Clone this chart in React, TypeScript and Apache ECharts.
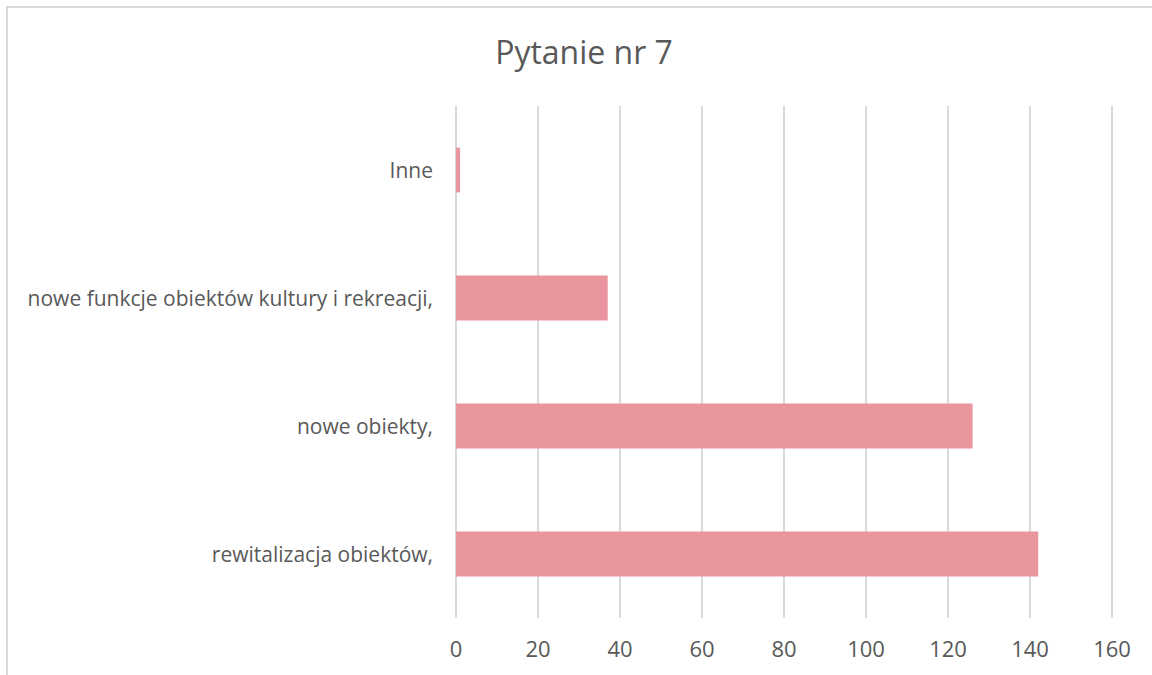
import React, { useEffect, useRef } from "react";
import * as echarts from "echarts";

const titleText = "Pytanie nr 7";
const categories = [
  "rewitalizacja obiektów,",
  "nowe obiekty,",
  "nowe funkcje obiektów kultury i rekreacji,",
  "Inne",
];
const values = [142, 126, 37, 1];
const axisMin = 0;
const axisMax = 160;
const axisStep = 20;

export default function App() {
  const ref = useRef<HTMLDivElement>(null);
  useEffect(() => {
    if (!ref.current) return;
    const chart = echarts.init(ref.current, undefined, { renderer: "svg" });
    const font = "'Open Sans', 'Noto Sans', sans-serif";
    chart.setOption({
      animation: false,
      backgroundColor: "#ffffff",
      graphic: [
        {
          type: "rect",
          shape: { x: 7, y: 7, width: 1200, height: 720 },
          style: { fill: "none", stroke: "#d9d9d9", lineWidth: 2 },
          silent: true,
        },
      ],
      title: {
        text: titleText,
        left: 579,
        top: 30,
        textAlign: "center",
        textStyle: {
          fontFamily: font,
          fontSize: 32,
          fontWeight: "normal",
          color: "#595959",
        },
      },
      grid: { left: 456, right: 40, top: 106, bottom: 57, containLabel: false },
      xAxis: {
        type: "value",
        min: axisMin,
        max: axisMax,
        interval: axisStep,
        axisLine: { show: false },
        axisTick: { show: false },
        splitLine: { show: true, lineStyle: { color: "#d9d9d9", width: 2 } },
        axisLabel: {
          margin: 19,
          fontFamily: font,
          fontSize: 22,
          color: "#595959",
        },
      },
      yAxis: {
        type: "category",
        data: categories,
        axisLine: { show: false },
        axisTick: { show: false },
        axisLabel: {
          margin: 23,
          fontFamily: font,
          fontSize: 21,
          color: "#595959",
        },
      },
      series: [
        {
          type: "bar",
          data: values,
          barWidth: "35%",
          itemStyle: { color: "#e9969f" },
        },
      ],
    });
    return () => chart.dispose();
  }, []);
  return (
    <div
      ref={ref}
      style={{ position: "fixed", left: 0, top: 0, width: 1152, height: 675 }}
    />
  );
}
